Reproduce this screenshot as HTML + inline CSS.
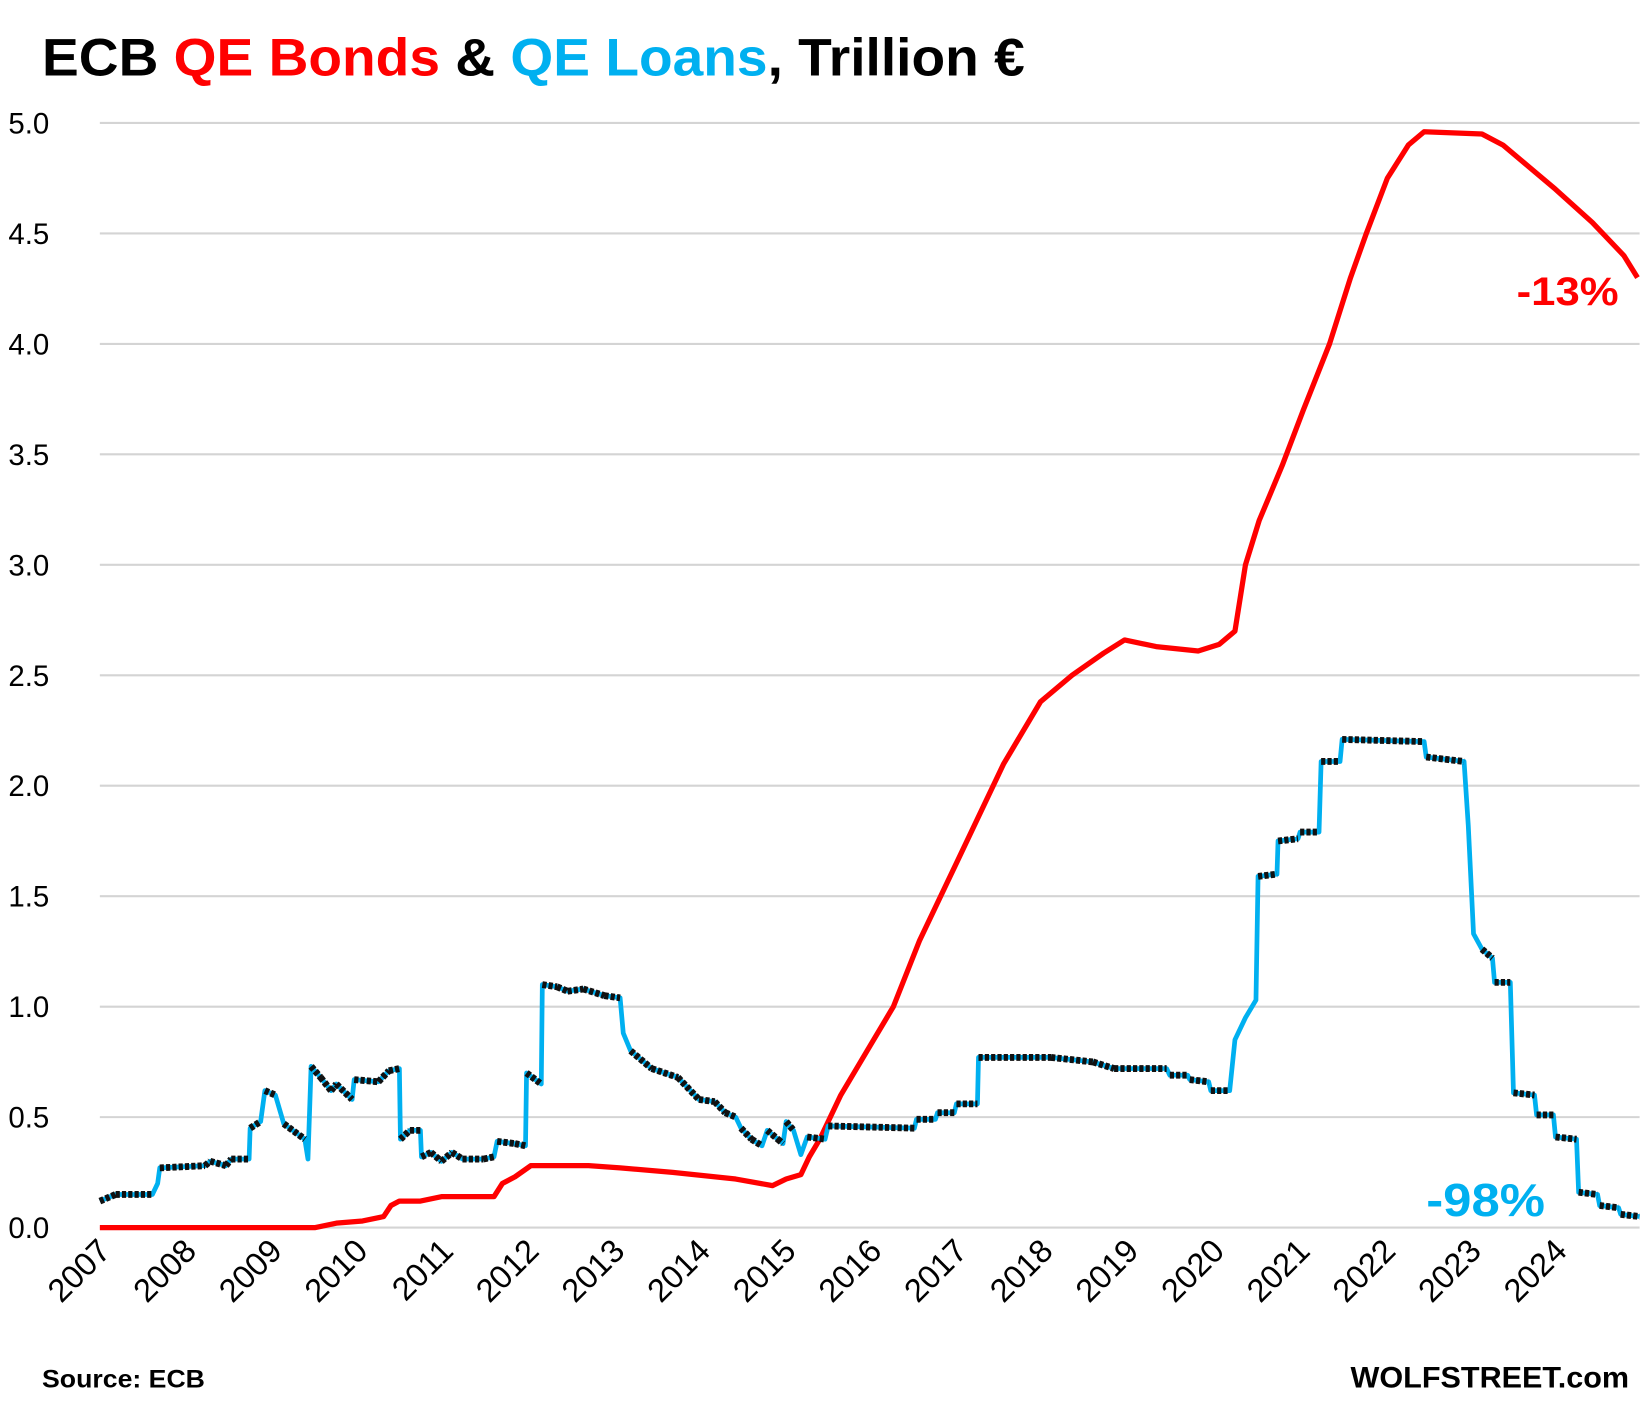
<!DOCTYPE html>
<html><head><meta charset="utf-8"><style>html,body{margin:0;padding:0;background:#fff}svg{display:block}</style></head>
<body>
<svg id="s" width="1648" height="1401" viewBox="0 0 1568 1333" xmlns="http://www.w3.org/2000/svg" font-family="'Liberation Sans', sans-serif">
<rect width="1568" height="1333" fill="#fff"/>
<g id="grid" stroke="#d4d4d4" stroke-width="2"></g>
<g id="ylab" font-size="28" fill="#000"></g>
<g id="xlab" font-size="31" fill="#000"></g>
<path id="red" fill="none" stroke="#ff0000" stroke-width="5" stroke-linejoin="round"/>
<path id="blue" fill="none" stroke="#00b0f0" stroke-width="4.5" stroke-linejoin="round"/>
<path id="blk" fill="none" stroke="#111" stroke-width="6.5" stroke-dasharray="4 2"/>
<text x="40" y="72" font-size="50" font-weight="bold" textLength="935" lengthAdjust="spacingAndGlyphs"><tspan fill="#000">ECB </tspan><tspan fill="#ff0000">QE Bonds</tspan><tspan fill="#000"> &amp; </tspan><tspan fill="#00b0f0">QE Loans</tspan><tspan fill="#000">, Trillion €</tspan></text>
<text x="1443" y="290" font-size="38" font-weight="bold" fill="#ff0000" textLength="97" lengthAdjust="spacingAndGlyphs">-13%</text>
<text x="1357" y="1157" font-size="44" font-weight="bold" fill="#00b0f0" textLength="113" lengthAdjust="spacingAndGlyphs">-98%</text>
<text x="40" y="1320" font-size="24" font-weight="bold" textLength="155" lengthAdjust="spacingAndGlyphs">Source: ECB</text>
<text x="1550" y="1320" font-size="28" font-weight="bold" text-anchor="end" textLength="265" lengthAdjust="spacingAndGlyphs">WOLFSTREET.com</text>
</svg>
<script>
var Y=function(v){return 1168-v*210.2;};
var ns="http://www.w3.org/2000/svg";
function el(t,a,p,txt){var e=document.createElementNS(ns,t);for(var k in a)e.setAttribute(k,a[k]);if(txt)e.textContent=txt;document.getElementById(p).appendChild(e);}
for(var i=0;i<=10;i++){var v=i*0.5,y=Y(v);el('line',{x1:95,x2:1560,y1:y,y2:y},'grid');el('text',{x:8,y:y+10},'ylab',v.toFixed(1));}
for(var yr=2007;yr<=2024;yr++){var x=95+81.5*(yr-2007);el('text',{x:0,y:0,'text-anchor':'end',transform:'translate('+(x+12)+',1192) rotate(-45)'},'xlab',String(yr));}
var red=[[95,0],[300,0],[320,0.02],[345,0.03],[365,0.05],[372,0.1],[380,0.12],[400,0.12],[420,0.14],[470,0.14],[478,0.2],[490,0.23],[505,0.28],[560,0.28],[590,0.27],[640,0.25],[700,0.22],[735,0.19],[748,0.22],[762,0.24],[770,0.32],[780,0.4],[800,0.6],[825,0.8],[850,1.0],[875,1.3],[910,1.65],[930,1.85],[955,2.1],[990,2.38],[1020,2.5],[1050,2.6],[1070,2.66],[1100,2.63],[1140,2.61],[1160,2.64],[1175,2.7],[1185,3.0],[1198,3.2],[1220,3.45],[1240,3.7],[1265,4.0],[1285,4.3],[1300,4.5],[1320,4.75],[1340,4.9],[1355,4.96],[1410,4.95],[1430,4.9],[1455,4.8],[1480,4.7],[1515,4.55],[1545,4.4],[1558,4.3]];
var bl=[[95,0.12],[110,0.15],[145,0.15],[150,0.2],[152,0.27],[195,0.28],[200,0.3],[215,0.28],[220,0.31],[237,0.31],[238,0.45],[248,0.48],[252,0.62],[262,0.6],[270,0.47],[290,0.4],[293,0.31],[296,0.73],[305,0.68],[315,0.62],[320,0.65],[335,0.58],[337,0.67],[360,0.66],[370,0.71],[380,0.72],[381,0.4],[390,0.44],[400,0.44],[401,0.32],[410,0.34],[420,0.3],[430,0.34],[440,0.31],[460,0.31],[470,0.32],[473,0.39],[490,0.38],[500,0.37],[501,0.7],[515,0.65],[516,1.1],[530,1.09],[540,1.07],[555,1.08],[575,1.05],[590,1.04],[593,0.88],[600,0.8],[620,0.72],[645,0.68],[665,0.58],[680,0.57],[690,0.52],[700,0.5],[705,0.45],[715,0.4],[725,0.37],[730,0.44],[740,0.4],[745,0.38],[748,0.48],[755,0.44],[762,0.33],[768,0.41],[785,0.4],[788,0.46],[870,0.45],[872,0.49],[890,0.49],[892,0.52],[908,0.52],[910,0.56],[930,0.56],[931,0.77],[1000,0.77],[1040,0.75],[1060,0.72],[1110,0.72],[1113,0.69],[1130,0.69],[1132,0.67],[1150,0.66],[1152,0.62],[1170,0.62],[1175,0.85],[1185,0.95],[1195,1.03],[1197,1.59],[1215,1.6],[1216,1.75],[1235,1.76],[1237,1.79],[1255,1.79],[1257,2.11],[1275,2.11],[1277,2.21],[1355,2.2],[1357,2.13],[1375,2.12],[1393,2.11],[1397,1.82],[1402,1.33],[1410,1.26],[1420,1.22],[1422,1.11],[1437,1.11],[1440,0.61],[1460,0.6],[1462,0.51],[1478,0.51],[1480,0.41],[1500,0.4],[1502,0.16],[1520,0.15],[1522,0.1],[1540,0.09],[1542,0.06],[1560,0.05]];
function path(a){return a.map(function(p,i){return (i?'L':'M')+p[0]+','+Y(p[1]).toFixed(1);}).join('');}
document.getElementById('red').setAttribute('d',path(red));
document.getElementById('blue').setAttribute('d',path(bl));
var d='';for(var i=1;i<bl.length;i++){var a=bl[i-1],b=bl[i];var dx=b[0]-a[0],dy=Math.abs(Y(b[1])-Y(a[1]));if(dx>=dy*0.6)d+='M'+a[0]+','+Y(a[1]).toFixed(1)+'L'+b[0]+','+Y(b[1]).toFixed(1);}
document.getElementById('blk').setAttribute('d',d);
</script>
</body></html>
